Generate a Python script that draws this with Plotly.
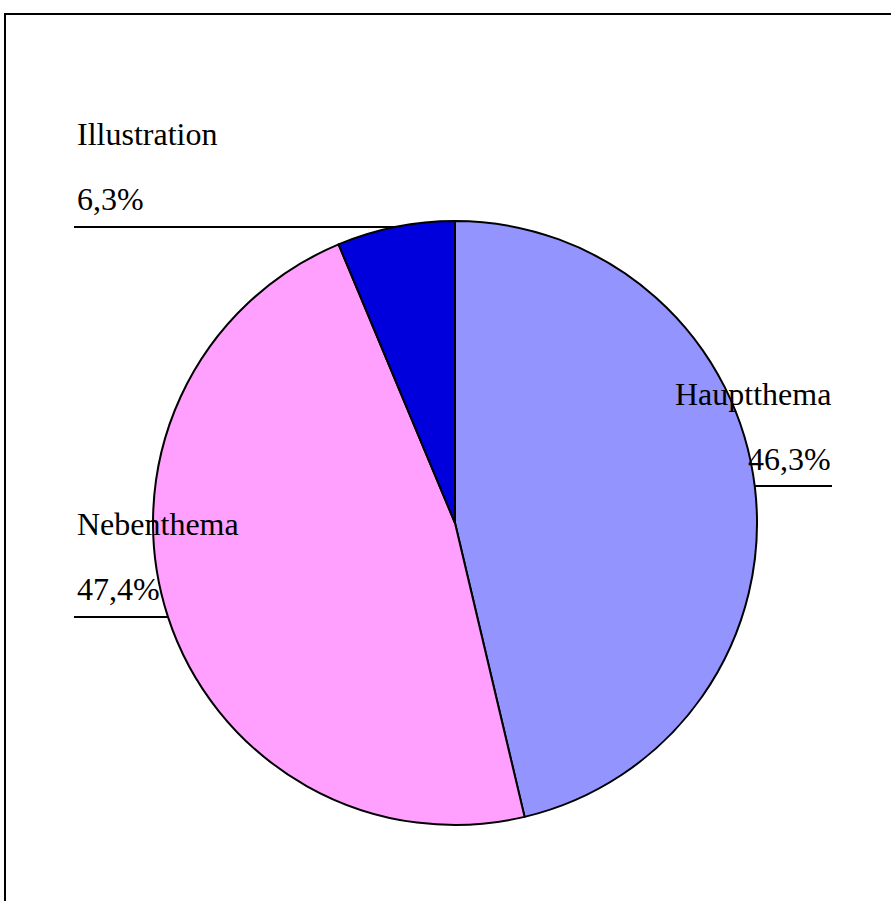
import plotly.graph_objects as go

# Data
categories = ["Hauptthema", "Nebenthema", "Illustration"]
values = [46.3, 47.4, 6.3]
value_labels = ["46,3%", "47,4%", "6,3%"]
colors = ["#9494FF", "#FFA0FF", "#0000DD"]

W, H = 891, 901


def px(x):
    return x / W


def py(y):
    return 1 - y / H


fig = go.Figure()
fig.add_trace(go.Pie(
    labels=categories,
    values=values,
    sort=False,
    direction="clockwise",
    rotation=0,
    textinfo="none",
    hoverinfo="label+percent",
    marker=dict(colors=colors, line=dict(color="black", width=2)),
    domain=dict(x=[px(153), px(757)], y=[py(825), py(221)]),
    showlegend=False,
))

font = dict(family="Liberation Serif, Times New Roman, serif", size=32, color="black")

# label placement (layout): (name x, name baseline, value baseline, anchor)
placement = {
    "Hauptthema": (832, 405, 470, "right"),
    "Nebenthema": (76, 535, 600, "left"),
    "Illustration": (76, 145, 210, "left"),
}
lines = {
    "Hauptthema": (752, 832, 486),
    "Nebenthema": (74, 168, 617),
    "Illustration": (74, 420, 227),
}

annotations = []
shapes = []
for name, vlab in zip(categories, value_labels):
    x, yb1, yb2, anc = placement[name]
    for txt, yb in ((name, yb1), (vlab, yb2)):
        annotations.append(dict(
            x=px(x), y=py(yb - 11), xref="paper", yref="paper",
            text=txt, showarrow=False, xanchor=anc, yanchor="middle",
            font=font, borderpad=0,
        ))
    x0, x1, yl = lines[name]
    shapes.append(dict(type="line", xref="paper", yref="paper",
                       x0=px(x0), x1=px(x1), y0=py(yl), y1=py(yl),
                       line=dict(color="black", width=2), layer="below"))

# outer frame
shapes.append(dict(type="rect", xref="paper", yref="paper",
                   x0=px(5), x1=px(900), y0=py(910), y1=py(14),
                   line=dict(color="black", width=2), layer="above"))

fig.update_layout(
    width=W, height=H,
    margin=dict(l=0, r=0, t=0, b=0),
    paper_bgcolor="white",
    plot_bgcolor="white",
    annotations=annotations,
    shapes=shapes,
)

fig.write_html(
    "out.html",
    config={"displayModeBar": False},
    post_script="document.body.style.margin='0px';document.body.style.overflow='hidden';",
)
